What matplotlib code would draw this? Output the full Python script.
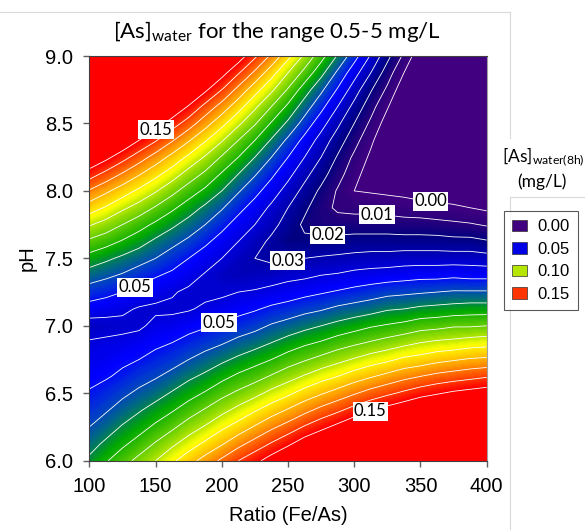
import numpy as np
import matplotlib
matplotlib.use("Agg")
import matplotlib.pyplot as plt
from matplotlib.colors import LinearSegmentedColormap
from matplotlib.patches import Patch
from matplotlib.lines import Line2D

# grid nodes
ratio = [100, 112.5, 125, 137.5, 150, 162.5, 175, 187.5, 200, 212.5, 225, 237.5, 250,
         262.5, 275, 287.5, 300, 312.5, 325, 337.5, 350, 362.5, 375, 387.5, 400]
ph = [6.0, 6.125, 6.25, 6.375, 6.5, 6.625, 6.75, 6.875, 7.0, 7.125, 7.25, 7.375, 7.5,
      7.625, 7.75, 7.875, 8.0, 8.125, 8.25, 8.375, 8.5, 8.625, 8.75, 8.875, 9.0]

# [As]water(8h), in ug/L (one row per pH, one column per ratio)
as_water_ug = [
    [72, 79, 86, 93, 100, 108, 116, 124, 132, 140, 147, 155, 163, 171, 178, 185, 192, 199, 205, 211, 216, 221, 226, 230, 233],
    [66, 72, 78, 84, 91, 98, 105, 112, 119, 127, 134, 141, 148, 156, 162, 169, 176, 182, 187, 193, 198, 202, 206, 210, 213],
    [60, 65, 71, 76, 82, 88, 95, 101, 108, 114, 121, 128, 134, 141, 147, 153, 159, 165, 170, 175, 180, 184, 188, 191, 193],
    [55, 59, 64, 69, 74, 79, 85, 91, 97, 103, 109, 115, 121, 127, 133, 138, 144, 149, 154, 158, 163, 166, 170, 172, 174],
    [51, 54, 58, 62, 66, 71, 76, 81, 87, 92, 97, 103, 108, 114, 119, 124, 129, 134, 138, 142, 146, 149, 152, 154, 156],
    [47, 49, 52, 56, 59, 63, 68, 72, 77, 82, 86, 91, 96, 101, 106, 110, 115, 119, 123, 127, 130, 133, 135, 137, 139],
    [44, 45, 48, 50, 53, 56, 60, 64, 68, 72, 76, 80, 85, 89, 93, 97, 101, 105, 108, 112, 114, 117, 119, 121, 122],
    [41, 42, 43, 45, 48, 50, 53, 56, 59, 63, 66, 70, 74, 78, 81, 85, 88, 91, 94, 97, 100, 102, 103, 105, 106],
    [35, 36, 37, 38, 43, 44, 47, 49, 52, 54, 57, 61, 64, 67, 70, 73, 76, 79, 81, 83, 86, 87, 89, 89, 90],
    [46, 44, 42, 39, 38, 38, 39, 42, 44, 47, 49, 52, 54, 57, 59, 62, 64, 66, 69, 70, 72, 73, 74, 75, 75],
    [55, 53, 50, 47, 44, 41, 38, 37, 38, 40, 41, 43, 45, 47, 49, 51, 53, 55, 57, 58, 59, 60, 61, 61, 61],
    [65, 62, 59, 55, 51, 48, 44, 39, 35, 33, 34, 35, 37, 38, 40, 41, 43, 44, 45, 46, 47, 47, 48, 47, 47],
    [76, 72, 68, 64, 60, 55, 50, 45, 40, 35, 30, 28, 29, 30, 31, 32, 33, 34, 34, 35, 35, 35, 35, 35, 34],
    [88, 84, 79, 74, 68, 63, 58, 52, 46, 40, 34, 28, 22, 22, 23, 23, 24, 24, 24, 24, 24, 24, 23, 23, 21],
    [101, 96, 90, 84, 78, 72, 66, 60, 53, 46, 40, 33, 26, 18, 15, 15, 15, 15, 15, 14, 14, 13, 12, 11, 9],
    [115, 109, 102, 96, 89, 82, 75, 68, 61, 53, 46, 38, 30, 22, 14, 8, 7, 7, 6, 5, 4, 3, 2, 0, -2],
    [129, 122, 115, 108, 101, 93, 85, 78, 70, 61, 53, 45, 36, 27, 18, 9, 0, -1, -2, -3, -5, -6, -8, -10, -12],
    [145, 137, 129, 121, 113, 105, 96, 88, 79, 70, 61, 52, 43, 33, 24, 14, 4, -6, -10, -11, -13, -15, -17, -20, -22],
    [161, 153, 144, 135, 126, 117, 108, 99, 89, 80, 70, 60, 50, 40, 30, 19, 8, -2, -13, -19, -21, -23, -26, -29, -31],
    [178, 169, 160, 150, 141, 131, 121, 111, 101, 90, 80, 69, 58, 47, 36, 25, 14, 2, -9, -21, -28, -31, -34, -37, -40],
    [196, 186, 176, 166, 156, 145, 135, 124, 113, 102, 91, 79, 68, 56, 44, 32, 20, 8, -5, -17, -30, -38, -41, -44, -48],
    [215, 204, 194, 183, 172, 160, 149, 137, 126, 114, 102, 90, 78, 65, 53, 40, 27, 14, 1, -12, -26, -39, -48, -52, -56],
    [235, 223, 212, 200, 188, 176, 164, 152, 140, 127, 114, 102, 89, 75, 62, 49, 35, 21, 8, -7, -21, -35, -49, -58, -62],
    [255, 243, 231, 219, 206, 193, 181, 168, 154, 141, 128, 114, 100, 87, 73, 58, 44, 30, 15, 0, -15, -30, -45, -60, -68],
    [277, 264, 251, 238, 225, 211, 198, 184, 170, 156, 142, 128, 113, 98, 84, 69, 54, 39, 23, 8, -8, -24, -40, -56, -72],
]

line_levels = [0.00, 0.01, 0.02, 0.03, 0.04, 0.05, 0.06, 0.07, 0.08, 0.09, 0.10, 0.11, 0.12, 0.13, 0.14, 0.15]
legend_labels = ["0.00", "0.05", "0.10", "0.15"]
legend_colors = ["#400080", "#0000e6", "#b4e600", "#ff3300"]

z = np.array(as_water_ug) / 1000.0  # mg/L

plt.rcParams["font.family"] = "Liberation Sans"
plt.rcParams["mathtext.fontset"] = "custom"
plt.rcParams["mathtext.rm"] = "Lato"
plt.rcParams["mathtext.it"] = "Lato:italic"

fig = plt.figure(figsize=(5.85, 5.30), dpi=100)
ax = fig.add_axes([89.3 / 585, 1 - 460.7 / 530, 397.4 / 585, 404.7 / 530])

cmap = LinearSegmentedColormap.from_list("as_water", [
    (0.000, "#400080"), (0.070, "#2a007c"), (0.140, "#000080"), (0.230, "#0000c0"),
    (0.320, "#0000ff"), (0.380, "#0038d0"), (0.440, "#006a80"), (0.510, "#00a800"),
    (0.600, "#60cc00"), (0.670, "#b4e600"), (0.720, "#ffff00"), (0.830, "#ffa000"),
    (0.930, "#ff4000"), (1.000, "#ff0000")])
cmap.set_under("#400080")
cmap.set_over("#ff0000")

ax.contourf(ratio, ph, z, levels=np.linspace(0, 0.15, 151), cmap=cmap, extend="both")
cs = ax.contour(ratio, ph, z, levels=line_levels, colors="white", linewidths=0.6)

# where the labels sit on the lines
lab_pos = [(150, 8.46), (137, 7.22), (198, 7.02), (250, 7.46), (280, 7.64),
           (317, 7.80), (357, 7.88), (312, 6.37)]
labels = ax.clabel(cs, manual=lab_pos, inline=False, fmt="%.2f", fontsize=12)
for t in labels:
    t.set_fontfamily("Lato")
    t.set_color("black")
    t.set_rotation(0)
    t.set_bbox(dict(facecolor="white", edgecolor="none", pad=1.0))

ax.set_xlim(100, 400)
ax.set_ylim(6, 9)
ax.set_xticks(np.arange(100, 401, 50))
ax.set_yticks(np.arange(6, 9.01, 0.5))
ax.set_yticklabels(["%.1f" % y for y in np.arange(6, 9.01, 0.5)])
ax.tick_params(direction="out", length=4, width=1, color="#606060", labelsize=14.5, pad=8)
for s in ["left", "bottom", "top"]:
    ax.spines[s].set_color("#404040")
ax.spines["right"].set_color("#a0a0a0")
ax.set_xlabel("Ratio (Fe/As)", fontsize=14.5, labelpad=7)
ax.set_ylabel("pH", fontsize=14.5, labelpad=6)

fig.text(277 / 585, 1 - 31 / 530, r"[As]$_{\mathrm{water}}$ for the range 0.5-5 mg/L",
         ha="center", va="center", fontsize=16, family="Lato")
fig.text(543 / 585, 1 - 157 / 530, r"[As]$_{\mathrm{water(8h)}}$", ha="center", va="center",
         fontsize=12.5, family="Lato")
fig.text(542 / 585, 1 - 182 / 530, "(mg/L)", ha="center", va="center", fontsize=12.5, family="Lato")

handles = [Patch(facecolor=c, edgecolor="#303030", linewidth=0.5) for c in legend_colors]
leg = fig.legend(handles, legend_labels, loc="upper left", bbox_to_anchor=(504 / 585, 1 - 211 / 530),
                 fontsize=12, frameon=True, fancybox=False, edgecolor="#303030",
                 handlelength=0.9, handleheight=0.65, labelspacing=0.45, borderpad=0.5,
                 handletextpad=0.6, borderaxespad=0)
leg.get_frame().set_linewidth(0.8)

# light frame lines of the surrounding slide
gray = "#d9d9d9"
fig.add_artist(Line2D([0, 510 / 585], [1 - 12 / 530] * 2, color=gray, lw=0.8))
fig.add_artist(Line2D([510 / 585] * 2, [1 - 12 / 530, 1 - 138 / 530], color=gray, lw=0.8))
fig.add_artist(Line2D([510 / 585, 1], [1 - 197 / 530] * 2, color=gray, lw=0.8))
fig.add_artist(Line2D([510 / 585] * 2, [1 - 197 / 530, 0], color=gray, lw=0.8))

plt.savefig("out.png")
